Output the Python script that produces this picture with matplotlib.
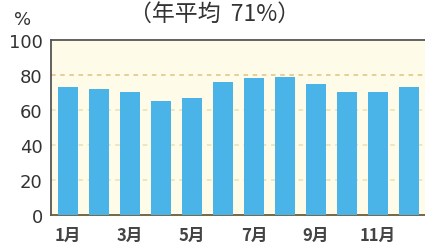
import matplotlib
matplotlib.use("Agg")
import matplotlib.pyplot as plt

plt.rcParams['font.family'] = ['Noto Sans CJK JP', 'DejaVu Sans']

months = list(range(1, 13))
rate = [73, 72, 70, 65, 67, 76, 78, 79, 75, 70, 70, 73]
tick_pos = [1, 3, 5, 7, 9, 11]
tick_labels = ['1月', '3月', '5月', '7月', '9月', '11月']
y_ticks = [0, 20, 40, 60, 80, 100]
title = '（年平均  71%）'

fig = plt.figure(figsize=(4.25, 2.51), dpi=100)
ax = fig.add_axes([0.12, 0.1394, 0.88, 0.6973])
ax.set_facecolor('#fffbe9')

ax.bar(months, rate, width=0.645, color='#4ab3e8', zorder=3)

for y in y_ticks[1:-1]:
    c = '#dcc583' if y == 80 else '#ebdfb5'
    ax.axhline(y, color=c, linestyle=(0, (3, 3)), linewidth=1.1, zorder=1)

ax.set_xlim(0.45, 12.52)
ax.set_ylim(0, 100)
ax.set_xticks(tick_pos)
ax.set_xticklabels(tick_labels, fontsize=12, fontweight='bold', color='#444444')
ax.set_yticks(y_ticks)
ax.set_yticklabels([str(v) for v in y_ticks], fontsize=13, color='#333333',
                   family='DejaVu Sans')
ax.tick_params(axis='y', length=0, pad=6)
ax.tick_params(axis='x', length=0, pad=8)

ax.spines['right'].set_visible(False)
ax.spines['left'].set_color('#555555')
ax.spines['top'].set_color('#555555')
ax.spines['bottom'].set_color('#6b5a3a')
for s in ['left', 'top', 'bottom']:
    ax.spines[s].set_linewidth(1.3)

fig.text(0.505, 0.942, title, ha='center', va='center', fontsize=16.5, color='#333333')
fig.text(0.052, 0.92, '%', ha='center', va='center', fontsize=13, color='#333333',
         family='DejaVu Sans')

fig.savefig('out.png', dpi=100, facecolor='white')
